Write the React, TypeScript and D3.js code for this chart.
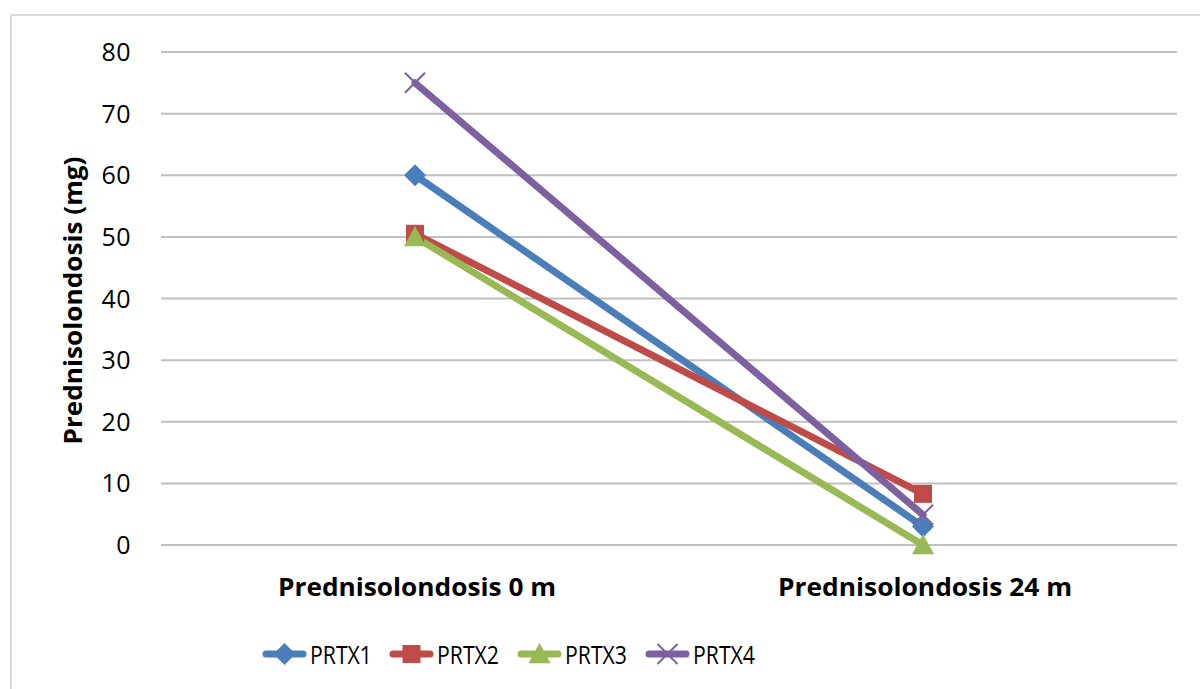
import React from "react";
import * as d3 from "d3";

const categories = ["Prednisolondosis 0 m", "Prednisolondosis 24 m"];
const seriesNames = ["PRTX1", "PRTX2", "PRTX3", "PRTX4"];
const prtx1 = [60, 3];
const prtx2 = [50.5, 8.3];
const prtx3 = [50, 0];
const prtx4 = [75, 4.9];
const yTicks = [0, 10, 20, 30, 40, 50, 60, 70, 80];
const colors = ["#4a7ebb", "#be4b48", "#98b954", "#7d60a0"];
const markers = ["diamond", "square", "triangle", "x"];

const W = 1200;
const H = 689;
const M = { left: 161, right: 1177, top: 52, bottom: 545 };
const FONT = "'Open Sans', sans-serif";

function Marker({ kind, x, y, color }: { kind: string; x: number; y: number; color: string }) {
  if (kind === "diamond") {
    const s = 11;
    return <path d={`M${x},${y - s}L${x + s},${y}L${x},${y + s}L${x - s},${y}Z`} fill={color} />;
  }
  if (kind === "square") {
    const s = 9;
    return <rect x={x - s} y={y - s} width={2 * s} height={2 * s} fill={color} />;
  }
  if (kind === "triangle") {
    const s = 11;
    return <path d={`M${x},${y - s}L${x + s},${y + s * 0.85}L${x - s},${y + s * 0.85}Z`} fill={color} />;
  }
  const s = 10;
  return (
    <path
      d={`M${x - s},${y - s}L${x + s},${y + s}M${x - s},${y + s}L${x + s},${y - s}`}
      stroke={color}
      strokeWidth={2}
      fill="none"
    />
  );
}

export default function App() {
  const x = d3.scaleBand<string>().domain(categories).range([M.left, M.right]);
  const y = d3.scaleLinear().domain([0, 80]).range([M.bottom, M.top]);
  const data = [prtx1, prtx2, prtx3, prtx4];
  const cx = (i: number) => (x(categories[i]) as number) + x.bandwidth() / 2;
  const line = d3
    .line<number>()
    .x((_, i) => cx(i))
    .y((d) => y(d));

  const legendX = [262, 389, 517, 645];
  const catWidths = [278, 294];

  return (
    <svg
      width={W}
      height={H}
      style={{ position: "absolute", left: 0, top: 0, display: "block", background: "#fff" }}
      fontFamily={FONT}
    >
      <rect x={11} y={15} width={W} height={H} fill="#fff" stroke="#d9d9d9" strokeWidth={2} />
      {yTicks.map((t) => (
        <g key={t}>
          <line x1={M.left} x2={M.right} y1={y(t)} y2={y(t)} stroke="#bfbfbf" strokeWidth={2} />
          <text
            x={131}
            y={y(t)}
            dy="0.36em"
            textAnchor="end"
            fontSize={25}
            letterSpacing={0.5}
            fill="#000"
          >
            {t}
          </text>
        </g>
      ))}
      <text
        transform={`translate(82,${(M.top + M.bottom) / 2 + 2}) rotate(-90)`}
        textAnchor="middle"
        fontSize={25}
        fontWeight="bold"
        fill="#000"
        textLength={288}
        lengthAdjust="spacingAndGlyphs"
      >
        Prednisolondosis (mg)
      </text>
      {categories.map((c, i) => (
        <text
          key={c}
          x={cx(i) + 2}
          y={587}
          dy="0.36em"
          textAnchor="middle"
          fontSize={25}
          fontWeight="bold"
          fill="#000"
          textLength={catWidths[i]}
          lengthAdjust="spacingAndGlyphs"
        >
          {c}
        </text>
      ))}
      {data.map((d, i) => (
        <path
          key={i}
          d={line(d) || ""}
          stroke={colors[i]}
          strokeWidth={7}
          fill="none"
          strokeLinecap="round"
        />
      ))}
      {data.map((d, i) =>
        d.map((v, j) => (
          <Marker key={`${i}-${j}`} kind={markers[i]} x={cx(j)} y={y(v)} color={colors[i]} />
        ))
      )}
      {seriesNames.map((n, i) => (
        <g key={n}>
          <line
            x1={legendX[i] + 4}
            x2={legendX[i] + 41}
            y1={654}
            y2={654}
            stroke={colors[i]}
            strokeWidth={7}
            strokeLinecap="round"
          />
          <Marker kind={markers[i]} x={legendX[i] + 22.5} y={654} color={colors[i]} />
          <text
            x={legendX[i] + 48}
            y={655}
            dy="0.36em"
            fontSize={26}
            fill="#000"
            textLength={62}
            lengthAdjust="spacingAndGlyphs"
          >
            {n}
          </text>
        </g>
      ))}
    </svg>
  );
}
